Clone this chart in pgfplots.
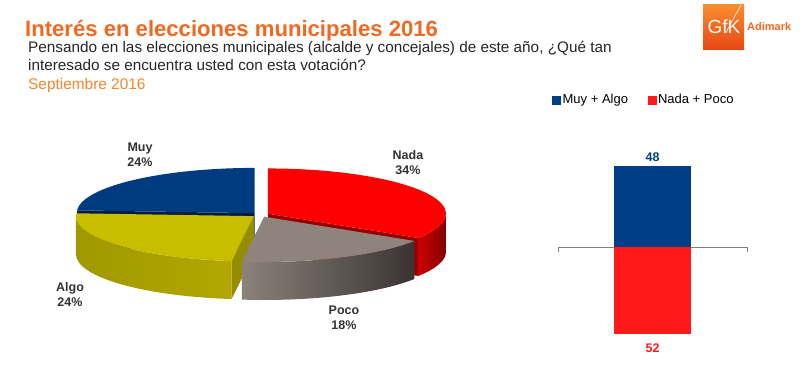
\documentclass[border=0pt]{standalone}
\usepackage{pgfplots}
\pgfplotsset{compat=1.18}
\usepackage{fontspec}
\setmainfont{Liberation Sans}

\definecolor{titleorange}{RGB}{240,105,35}
\definecolor{septorange}{RGB}{242,135,45}
\definecolor{subgray}{RGB}{38,38,38}
\definecolor{labgray}{RGB}{51,51,51}
\definecolor{muyblue}{RGB}{0,59,128}
\definecolor{muyface}{RGB}{0,28,66}
\definecolor{nadared}{RGB}{255,0,0}
\definecolor{nadawallL}{RGB}{205,0,0}
\definecolor{nadawallR}{RGB}{130,0,0}
\definecolor{nadaface}{RGB}{150,0,0}
\definecolor{pocotop}{RGB}{142,131,125}
\definecolor{pocowallL}{RGB}{140,130,124}
\definecolor{pocowallR}{RGB}{58,52,49}
\definecolor{algotop}{RGB}{200,190,0}
\definecolor{algowallL}{RGB}{160,152,0}
\definecolor{algowallM}{RGB}{205,196,0}
\definecolor{algowallR}{RGB}{178,168,0}
\definecolor{algoface}{RGB}{150,140,0}
\definecolor{barblue}{RGB}{0,62,135}
\definecolor{barred}{RGB}{255,25,25}
\definecolor{logoT}{RGB}{250,140,45}
\definecolor{logoB}{RGB}{232,72,22}

% pie data (percent)
\def\vNada{34}\def\vPoco{18}\def\vAlgo{24}\def\vMuy{24}
% pie geometry (1 unit = 1pt = 1px)
\def\pa{178}\def\pb{45.25}\def\pd{38}\def\pcx{260.5}\def\pcy{161.25}\def\pe{0.048}
\pgfmathsetmacro\NadaE{90}
\pgfmathsetmacro\NadaS{90-3.6*\vNada}
\pgfmathsetmacro\PocoE{\NadaS}
\pgfmathsetmacro\PocoS{\PocoE-3.6*\vPoco}
\pgfmathsetmacro\AlgoE{\PocoS}
\pgfmathsetmacro\AlgoS{\AlgoE-3.6*\vAlgo}
\pgfmathsetmacro\MuyE{\AlgoS}
\pgfmathsetmacro\MuyS{\MuyE-3.6*\vMuy}
\pgfmathsetmacro\NadaX{\pe*\pa*cos((\NadaS+\NadaE)/2)}
\pgfmathsetmacro\NadaY{\pe*\pb*sin((\NadaS+\NadaE)/2)}
\pgfmathsetmacro\PocoX{\pe*\pa*cos((\PocoS+\PocoE)/2)}
\pgfmathsetmacro\PocoY{\pe*\pb*sin((\PocoS+\PocoE)/2)}
\pgfmathsetmacro\AlgoX{\pe*\pa*cos((\AlgoS+\AlgoE)/2)}
\pgfmathsetmacro\AlgoY{\pe*\pb*sin((\AlgoS+\AlgoE)/2)}
\pgfmathsetmacro\MuyX{\pe*\pa*cos((\MuyS+\MuyE)/2)}
\pgfmathsetmacro\MuyY{\pe*\pb*sin((\MuyS+\MuyE)/2)}

% top surface: start, end, ox, oy, style
\newcommand\slicetop[5]{\fill[#5] ({\pcx+#3},{\pcy+#4}) -- ({\pcx+#3+\pa*cos(#1)},{\pcy+#4+\pb*sin(#1)}) arc[start angle=#1, end angle=#2, x radius=\pa pt, y radius=\pb pt] -- cycle;}
% outer wall: from, to, ox, oy, shading style
\newcommand\slicewall[5]{\shade[#5] ({\pcx+#3+\pa*cos(#1)},{\pcy+#4+\pb*sin(#1)}) arc[start angle=#1, end angle=#2, x radius=\pa pt, y radius=\pb pt] -- ({\pcx+#3+\pa*cos(#2)},{\pcy+#4+\pb*sin(#2)-\pd}) arc[start angle=#2, end angle=#1, x radius=\pa pt, y radius=\pb pt] -- cycle;}
% cut face: angle, ox, oy, style
\newcommand\sliceface[4]{\fill[#4] ({\pcx+#2},{\pcy+#3}) -- ({\pcx+#2+\pa*cos(#1)},{\pcy+#3+\pb*sin(#1)}) -- ({\pcx+#2+\pa*cos(#1)},{\pcy+#3+\pb*sin(#1)-\pd}) -- ({\pcx+#2},{\pcy+#3-\pd}) -- cycle;}

\begin{document}
\begin{tikzpicture}
\begin{axis}[x=1pt, y=1pt, xmin=0, xmax=800, ymin=0, ymax=376, hide axis, clip=false]
\fill[white] (0,0) rectangle (800,376);
% titles
\node[anchor=base west, inner sep=0pt, text=titleorange, font=\bfseries\fontsize{22.1}{26}\selectfont] at (25,340) {Interés en elecciones municipales 2016};
\node[anchor=base west, inner sep=0pt, text=subgray, font=\fontsize{15.3}{18}\selectfont] at (28,323.5) {Pensando en las elecciones municipales (alcalde y concejales) de este año, ¿Qué tan};
\node[anchor=base west, inner sep=0pt, text=subgray, font=\fontsize{15.3}{18}\selectfont] at (28,306) {interesado se encuentra usted con esta votación?};
\node[anchor=base west, inner sep=0pt, text=septorange, font=\fontsize{15.4}{18}\selectfont] at (28,287) {Septiembre 2016};
% logo
\shade[top color=logoT, bottom color=logoB] (703,371) rectangle (744,327);
\draw[white, line width=0.6pt] (741,371) .. controls (735,360) and (730,352) .. (726,343);
\node[text=white, inner sep=0pt, font=\fontsize{19}{21}\selectfont] at (724,349) {GfK};
\node[anchor=base west, inner sep=0pt, text=titleorange, font=\bfseries\fontsize{11}{13}\selectfont] at (747,345) {Adimark};
% pie (back slices first)
\sliceface{\MuyE}{\MuyX}{\MuyY}{muyface}
\slicetop{\MuyS}{\MuyE}{\MuyX}{\MuyY}{muyblue}
\sliceface{\NadaS}{\NadaX}{\NadaY}{nadaface}
\slicewall{\NadaS}{0}{\NadaX}{\NadaY}{left color=nadawallL, right color=nadawallR}
\slicetop{\NadaS}{\NadaE}{\NadaX}{\NadaY}{nadared}
\sliceface{\AlgoE}{\AlgoX}{\AlgoY}{algoface}
\slicewall{-180}{\AlgoE}{\AlgoX}{\AlgoY}{left color=algowallL, middle color=algowallM, right color=algowallR}
\slicetop{\AlgoS}{\AlgoE}{\AlgoX}{\AlgoY}{algotop}
\slicewall{\PocoS}{\PocoE}{\PocoX}{\PocoY}{left color=pocowallL, right color=pocowallR}
\slicetop{\PocoS}{\PocoE}{\PocoX}{\PocoY}{pocotop}
% pie labels
\node[align=center, text=labgray, font=\bfseries\fontsize{12.5}{15}\selectfont] at (140,221.5) {Muy\\24\%};
\node[align=center, text=labgray, font=\bfseries\fontsize{12.5}{15}\selectfont] at (408,213.5) {Nada\\34\%};
\node[align=center, text=labgray, font=\bfseries\fontsize{12.5}{15}\selectfont] at (70,81.5) {Algo\\24\%};
\node[align=center, text=labgray, font=\bfseries\fontsize{12.5}{15}\selectfont] at (344,58.5) {Poco\\18\%};
% bar baseline
\draw[gray, line width=0.8pt] (558,124) -- (558,129) -- (747,129) -- (747,124);
\end{axis}

\begin{axis}[at={(558pt,28.2pt)}, anchor=south west, x=189pt, y=1.68pt,
  xmin=-0.5, xmax=0.5, ymin=-60, ymax=60, hide axis, clip=false,
  ybar, bar width=77pt, bar shift=0pt,
  nodes near coords, point meta=explicit symbolic,
  nodes near coords style={font=\bfseries\fontsize{12.5}{15}\selectfont, inner sep=3pt},
  legend image code/.code={\fill[#1] (0pt,-4.5pt) rectangle (9pt,4.5pt);},
  legend style={draw=none, fill=none, at={(-0.032,1.229)}, anchor=west, inner sep=0pt,
    font=\fontsize{13}{15}\selectfont, legend columns=2,
    nodes={inner sep=1.5pt},
    /tikz/every even column/.append style={column sep=18pt}},
]
\addplot[fill=barblue, draw=none, nodes near coords style={text=barblue, anchor=south, yshift=2pt}] coordinates {(0,48) [48]};
\addplot[fill=barred, draw=none, nodes near coords style={text=barred, anchor=north, yshift=-6pt}] coordinates {(0,-52) [52]};
\legend{Muy + Algo, Nada + Poco}
\end{axis}
\end{tikzpicture}
\end{document}
